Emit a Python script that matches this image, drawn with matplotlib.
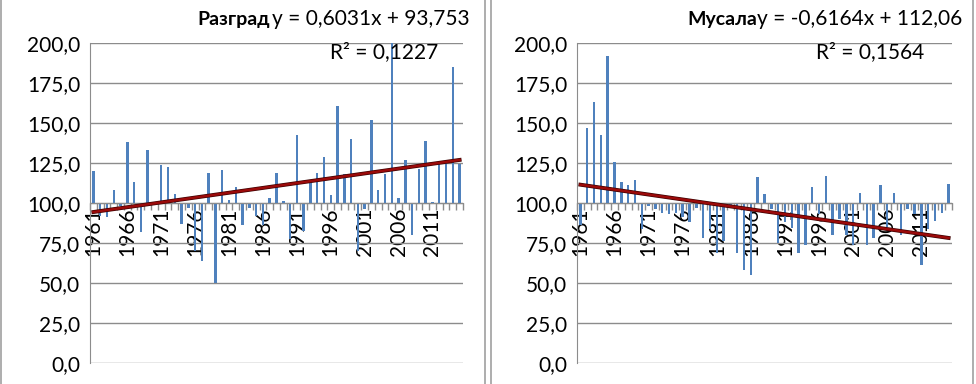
import matplotlib
matplotlib.use('Agg')
import matplotlib.pyplot as plt
import matplotlib.patheffects as pe
import numpy as np

plt.rcParams['font.family'] = ['Lato', 'DejaVu Sans']

years = list(range(1961, 2016))

razgrad = [120, 92, 91, 108, 98, 138, 113, 82, 133, 99.5,
           124, 122.5, 105.5, 87, 97, 70, 64, 118.5, 50, 120.5,
           102, 110, 86, 97, 92, 86, 103, 119, 101.5, 77.5,
           142.5, 82.5, 113, 119, 128.5, 105, 160.5, 118, 140, 70,
           96, 152, 108, 118, 203, 103, 127, 80, 121, 138.5,
           100.5, 124.5, 125, 185, 124.5]

musala = [86.5, 147, 163, 142.5, 192, 125.5, 113, 111, 114.5, 83.5,
          98, 96, 94, 93, 94, 91, 88, 97, 78, 84,
          69, 76.5, 97, 69, 58, 55, 116.5, 105.5, 96, 75,
          88, 84.5, 68.5, 74, 110, 93, 117, 80, 90, 80,
          74, 106, 74, 78, 111, 85, 106, 80, 96, 93,
          61, 83.5, 89, 94, 112]

# trend lines as given by the regression labels
trend_razgrad = (0.6031, 93.753)
trend_musala = (-0.6164, 112.06)

stations = ['Разград', 'Мусала']
equations = ['y = 0,6031x + 93,753', 'y = -0,6164x + 112,06']
r2_labels = ['R\u00b2 = 0,1227', 'R\u00b2 = 0,1564']

yticks = [0, 25, 50, 75, 100, 125, 150, 175, 200]

W, H = 976, 384
fig = plt.figure(figsize=(W / 100, H / 100), dpi=100)

bar_color = '#4F81BD'
grid_color = '#8C8C8C'


def draw_panel(left_px, right_px, values, trend):
    ax = fig.add_axes([left_px / W, 21 / H, (right_px - left_px) / W, 320 / H])
    x = np.arange(len(values))
    vals = np.array(values, dtype=float)
    ax.bar(x, vals - 100, bottom=100, width=0.36, color=bar_color, zorder=2)

    n = np.arange(1, len(values) + 1)
    ty = trend[0] * n + trend[1]
    ax.plot(x, ty, color='#9B0A0A', lw=1.8, zorder=4,
            path_effects=[pe.Stroke(linewidth=2.8, foreground='#3C0000'), pe.Normal()])

    ax.set_xlim(-0.5, len(values) - 0.5)
    ax.set_ylim(0, 200)
    ax.set_yticks(yticks)
    ax.set_yticklabels([f'{v:.1f}'.replace('.', ',') for v in yticks], fontsize=15)
    ax.yaxis.grid(True, color=grid_color, lw=1.0, zorder=0)
    ax.set_axisbelow(True)

    for s in ['top', 'right']:
        ax.spines[s].set_visible(False)
    ax.spines['left'].set_color(grid_color)
    ax.spines['bottom'].set_color(grid_color)
    ax.spines['bottom'].set_position(('data', 100))
    ax.spines['bottom'].set_zorder(3)
    ax.tick_params(axis='y', length=0, pad=7, colors='black')

    label_pos = x[::5]
    ax.set_xticks(label_pos)
    ax.set_xticklabels([str(years[i]) for i in label_pos], rotation=90, fontsize=15)
    ax.set_xticks(np.arange(len(values) + 1) - 0.5, minor=True)
    ax.tick_params(axis='x', which='major', length=0, pad=3)
    ax.tick_params(axis='x', which='minor', length=5, color=grid_color, width=1)
    return ax


draw_panel(90, 463, razgrad, trend_razgrad)
draw_panel(577, 952, musala, trend_musala)

# titles with regression equations
fig.text(270 / W, 1 - 19 / H, stations[0], ha='right', va='center', fontsize=14, fontweight='bold')
fig.text(272 / W, 1 - 19 / H, equations[0], ha='left', va='center', fontsize=15)
fig.text(384 / W, 1 - 52 / H, r2_labels[0], ha='center', va='center', fontsize=15)

fig.text(757 / W, 1 - 19 / H, stations[1], ha='right', va='center', fontsize=14, fontweight='bold')
fig.text(757 / W, 1 - 19 / H, equations[1], ha='left', va='center', fontsize=15)
fig.text(870 / W, 1 - 52 / H, r2_labels[1], ha='center', va='center', fontsize=15)

# chart frames
for xp in [1, 485, 491, 973]:
    fig.add_artist(plt.Line2D([xp / W, xp / W], [0, 1], color='#A0A0A0', lw=1.2))

fig.savefig('out.png', dpi=100)
